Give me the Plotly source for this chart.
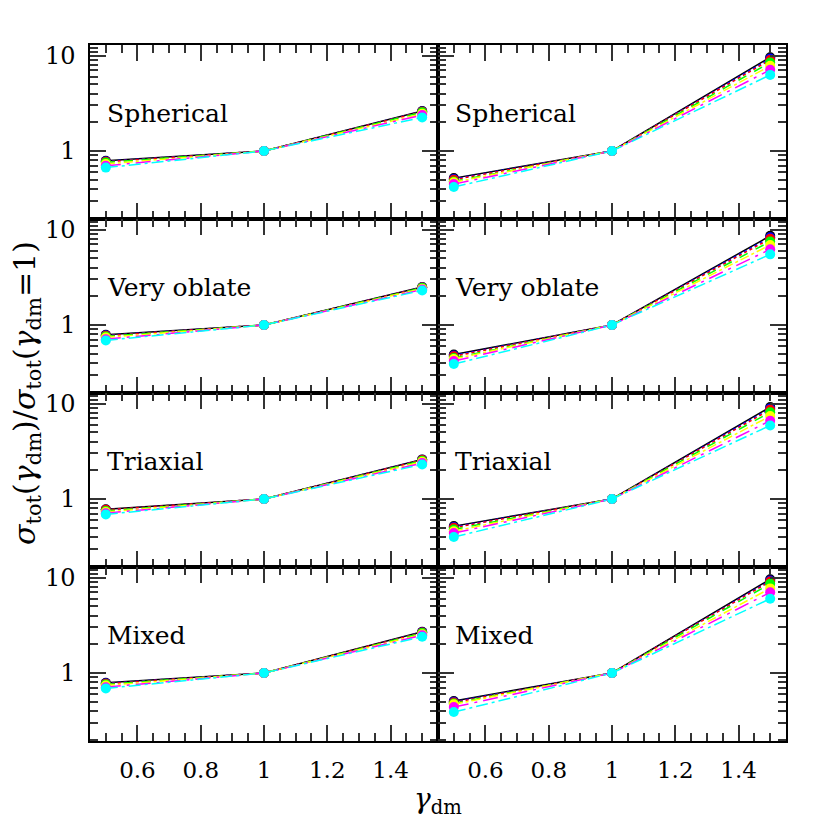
import math
import plotly.graph_objects as go
from plotly.subplots import make_subplots

gamma_dm = [0.5, 1.0, 1.5]
panel_labels = ["Spherical", "Very oblate", "Triaxial", "Mixed"]
series_colors = ["#000000", "#0000ff", "#ff0000", "#00ff00", "#ffff00", "#ff00ff", "#00ffff"]
series_dash = ["solid", "dot", "3px,3px", "dash", "dashdot", "longdashdot", "12px,4px,3px,4px"]

# left column (values at gamma=0.5 and gamma=1.5; gamma=1 is 1)
sph_L_05 = [0.79, 0.78, 0.77, 0.76, 0.73, 0.70, 0.67]
sph_L_15 = [2.62, 2.60, 2.58, 2.55, 2.45, 2.38, 2.25]
obl_L_05 = [0.79, 0.78, 0.77, 0.76, 0.74, 0.71, 0.69]
obl_L_15 = [2.50, 2.48, 2.47, 2.45, 2.40, 2.35, 2.30]
tri_L_05 = [0.78, 0.77, 0.77, 0.75, 0.73, 0.71, 0.69]
tri_L_15 = [2.60, 2.58, 2.56, 2.52, 2.45, 2.38, 2.30]
mix_L_05 = [0.79, 0.78, 0.77, 0.76, 0.74, 0.71, 0.69]
mix_L_15 = [2.70, 2.68, 2.66, 2.62, 2.55, 2.48, 2.40]
# right column
sph_R_05 = [0.52, 0.51, 0.50, 0.48, 0.47, 0.45, 0.42]
sph_R_15 = [9.6, 9.3, 9.0, 8.45, 7.8, 7.08, 6.27]
obl_R_05 = [0.49, 0.48, 0.47, 0.45, 0.44, 0.42, 0.39]
obl_R_15 = [8.6, 8.3, 8.0, 7.5, 6.9, 6.2, 5.5]
tri_R_05 = [0.52, 0.51, 0.50, 0.48, 0.46, 0.44, 0.40]
tri_R_15 = [9.2, 8.9, 8.6, 8.1, 7.4, 6.6, 5.9]
mix_R_05 = [0.51, 0.50, 0.49, 0.48, 0.47, 0.44, 0.39]
mix_R_15 = [9.6, 9.3, 9.1, 8.6, 7.7, 7.0, 6.0]

x_tickvals = [0.6, 0.8, 1.0, 1.2, 1.4]
x_ticktext = ["0.6", "0.8", "1", "1.2", "1.4"]
y_tickvals = [1, 10]
y_ticktext = ["1", "10"]

panels = [
    [(sph_L_05, sph_L_15), (sph_R_05, sph_R_15)],
    [(obl_L_05, obl_L_15), (obl_R_05, obl_R_15)],
    [(tri_L_05, tri_L_15), (tri_R_05, tri_R_15)],
    [(mix_L_05, mix_L_15), (mix_R_05, mix_R_15)],
]

FONT = "DejaVu Serif"
fig = make_subplots(rows=4, cols=2, horizontal_spacing=0, vertical_spacing=0)

for r in range(4):
    for c in range(2):
        lo, hi = panels[r][c]
        for i in range(len(series_colors)):
            fig.add_trace(go.Scatter(
                x=gamma_dm, y=[lo[i], 1.0, hi[i]], mode="lines+markers",
                line=dict(color=series_colors[i], width=1.5, dash=series_dash[i]),
                marker=dict(color=series_colors[i], size=10),
                showlegend=False, hoverinfo="skip"), row=r + 1, col=c + 1)
        fig.add_annotation(text=panel_labels[r], x=0.497, y=math.log10(2.45),
                           xanchor="left", yanchor="middle", showarrow=False,
                           font=dict(family=FONT, size=25, color="black"),
                           row=r + 1, col=c + 1)

x_minor = [round(0.45 + 0.05 * k, 2) for k in range(0, 23)]
y_minor = [0.2, 0.3, 0.4, 0.5, 0.6, 0.7, 0.8, 0.9, 2, 3, 4, 5, 6, 7, 8, 9, 11, 12]

fig.update_xaxes(range=[0.45, 1.55], tickmode="array", tickvals=x_tickvals, ticktext=x_ticktext,
                 ticks="inside", ticklen=16, tickwidth=1.5, tickcolor="#333",
                 minor=dict(ticks="inside", ticklen=8, tickwidth=1.5, tickcolor="#333",
                            tickmode="array", tickvals=x_minor, showgrid=False),
                 showline=True, linecolor="black", linewidth=1.5, mirror="allticks",
                 showgrid=False, zeroline=False, showticklabels=False,
                 tickfont=dict(family=FONT, size=23, color="black"))
fig.update_yaxes(type="log", range=[math.log10(0.194), math.log10(12.9)],
                 tickmode="array", tickvals=y_tickvals, ticktext=y_ticktext,
                 ticks="inside", ticklen=16, tickwidth=1.5, tickcolor="#333",
                 minor=dict(ticks="inside", ticklen=8, tickwidth=1.5, tickcolor="#333",
                            tickmode="array", tickvals=y_minor, showgrid=False),
                 showline=True, linecolor="black", linewidth=1.5, mirror="allticks",
                 showgrid=False, zeroline=False, showticklabels=False,
                 tickfont=dict(family=FONT, size=24, color="black"))
for c in (1, 2):
    fig.update_xaxes(showticklabels=True, ticklabelstandoff=8, row=4, col=c)
for r in range(1, 5):
    fig.update_yaxes(showticklabels=True, ticklabelstandoff=8, row=r, col=1)

fig.add_annotation(text="<i>σ</i><sub>tot</sub>(<i>γ</i><sub>dm</sub>)/<i>σ</i><sub>tot</sub>(<i>γ</i><sub>dm</sub>=1)",
                   xref="paper", yref="paper", x=-0.092, y=0.5, textangle=-90,
                   showarrow=False, font=dict(family=FONT, size=30, color="black"),
                   xanchor="center", yanchor="middle")
fig.add_annotation(text="<i>γ</i><sub>dm</sub>", xref="paper", yref="paper", x=0.5, y=-0.085,
                   showarrow=False, font=dict(family=FONT, size=28, color="black"),
                   xanchor="center", yanchor="middle")

fig.update_layout(width=830, height=830, margin=dict(l=82, r=52, t=37, b=97),
                  plot_bgcolor="white", paper_bgcolor="white")
fig.write_html("out.html")
